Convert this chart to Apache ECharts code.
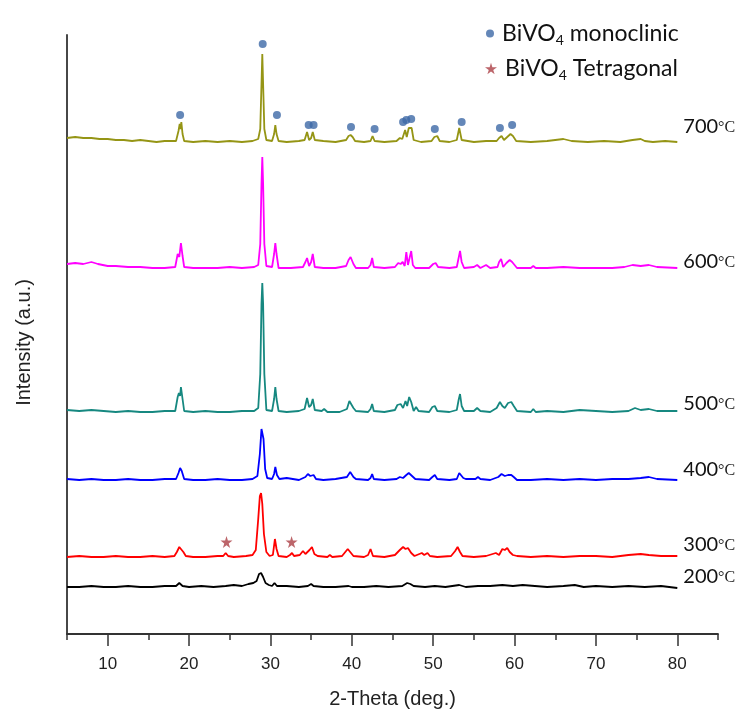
<!DOCTYPE html>
<html>
<head>
<meta charset="utf-8">
<script src="https://cdn.jsdelivr.net/npm/echarts@6/dist/echarts.min.js"></script>
<style>
  html, body { margin: 0; padding: 0; background: #fff; }
  /* 必须定义div大小，否则无法显示图表 */
  #main { width: 740px; height: 718px; }
</style>
</head>
<body>
<div id="main"></div>
<script>
// 横轴刻度
const majorTicks = [10, 20, 30, 40, 50, 60, 70, 80]
const minorTicks = [5, 15, 25, 35, 45, 55, 65, 75, 85]

// 各温度的XRD曲线 [2θ, 强度]
const xrd700 = [[5,496],[6,497],[7,496],[8,496],[9,495],[10,495],[11,494],[12,494],[13,493],[14,494],[15,493],[16,492],[17,493],[18.4,493],[18.7,503],[18.85,510],[18.95,505],[19.05,512],[19.2,500],[19.4,493],[20.5,492],[22,493],[23.5,492],[25,493],[26.5,492],[27.8,493],[28.5,495],[28.75,505],[28.9,550],[29.0,580],[29.1,550],[29.25,505],[29.5,494],[30.2,493],[30.45,500],[30.6,509],[30.75,500],[31,493],[32,492],[33.5,493],[34.2,494],[34.5,502],[34.75,494],[35.0,496],[35.2,502],[35.45,494],[36.5,493],[38,492],[39.3,494],[39.6,498],[39.85,499],[40.1,497],[40.4,493],[41.5,492],[42.3,493],[42.55,498],[42.8,493],[44,492],[45.5,493],[45.9,496],[46.2,495],[46.55,504],[46.75,497],[47.0,506],[47.15,505],[47.35,506],[47.6,494],[48.5,492],[49.8,493],[50.15,497],[50.3,496],[50.5,498],[50.8,493],[52,492],[52.9,494],[53.2,506],[53.5,494],[55,492],[56.5,493],[57.8,493],[58.1,496],[58.4,498],[58.7,494],[59.1,497],[59.5,500],[59.8,498],[60.2,493],[62,492],[64,493],[66,495],[67,493],[69,492],[71,493],[73,492],[74.5,494],[75.5,495],[76,493],[77,492],[78.5,493],[80,492]]
const xrd600 = [[5,370],[6,371],[7,370],[8,372],[8.8,370],[10,368],[11,368],[12.5,367],[14,367],[15.5,366],[17,366],[18.3,367],[18.6,380],[18.8,377],[19.0,391],[19.2,378],[19.4,367],[20.5,366],[22,366],[23.5,366],[25,367],[26.5,366],[28,367],[28.5,369],[28.75,390],[28.9,450],[29.0,477],[29.1,450],[29.25,390],[29.5,368],[30.2,367],[30.45,380],[30.6,391],[30.75,380],[31,366],[32.5,366],[34,367],[34.3,372],[34.5,376],[34.75,368],[35.0,372],[35.2,380],[35.45,367],[36.5,366],[38,366],[39.3,368],[39.6,374],[39.85,377],[40.2,370],[40.5,366],[42,366],[42.3,369],[42.5,376],[42.7,367],[44,366],[45.3,367],[45.7,371],[46.0,370],[46.25,372],[46.5,368],[46.7,382],[46.9,369],[47.1,370],[47.3,383],[47.5,369],[47.8,366],[49.5,366],[50.0,370],[50.3,371],[50.6,367],[52,366],[52.9,367],[53.15,377],[53.3,383],[53.5,372],[53.8,366],[55,367],[55.4,369],[55.8,366],[56.5,369],[57,366],[57.9,367],[58.1,372],[58.35,375],[58.6,367],[59.0,371],[59.4,374],[59.7,372],[60,369],[60.3,366],[62,366],[62.3,368],[62.6,366],[64,366],[66,367],[68,366],[70,366],[72,366],[73.5,367],[74.5,369],[75.5,368],[76.5,369],[77.5,367],[80,366]]
const xrd500 = [[5,224],[6.5,223],[8,224],[9.5,223],[11,222],[12.5,223],[14,222],[15.5,222],[17,223],[18.3,223],[18.6,237],[18.75,241],[18.9,238],[19.0,247],[19.2,235],[19.4,223],[20.5,222],[22,223],[23.5,222],[25,222],[26.5,223],[28,223],[28.5,226],[28.75,260],[28.9,330],[29.0,351],[29.1,330],[29.25,260],[29.5,224],[30.2,223],[30.45,235],[30.6,247],[30.75,235],[31,223],[32,222],[33.5,223],[34.2,225],[34.5,236],[34.75,227],[35.0,229],[35.2,235],[35.45,224],[36.3,223],[36.6,225],[37,222],[38.5,222],[39.4,225],[39.7,233],[39.9,231],[40.2,226],[40.5,223],[42,222],[42.3,225],[42.5,230],[42.7,223],[44,222],[45.3,224],[45.6,229],[46.0,230],[46.3,226],[46.6,233],[46.8,228],[47.05,237],[47.3,232],[47.6,223],[47.9,227],[48.2,223],[49.5,222],[49.9,227],[50.2,228],[50.5,223],[52,222],[52.9,224],[53.15,235],[53.3,240],[53.5,228],[53.8,223],[55,223],[55.4,226],[55.8,223],[57,222],[57.8,226],[58.2,232],[58.5,228],[58.8,226],[59.2,231],[59.6,232],[59.9,228],[60.3,223],[62,222],[62.3,225],[62.6,222],[64,223],[66,222],[68,224],[70,223],[72,222],[74,223],[74.8,226],[75.5,224],[76.5,225],[77.5,223],[80,223]]
const xrd400 = [[5,155],[6.5,154],[8,155],[9.5,154],[11,154],[12.5,155],[14,154],[15.5,154],[17,155],[18.4,155],[18.7,161],[18.9,166],[19.1,163],[19.4,155],[20.5,154],[22,154],[23.5,155],[25,154],[26.5,154],[27.8,155],[28.4,158],[28.7,180],[28.9,205],[29.0,207],[29.15,195],[29.35,165],[29.6,156],[30.2,155],[30.45,160],[30.6,167],[30.8,159],[31.1,155],[32,156],[33.5,154],[34.3,157],[34.6,160],[34.9,158],[35.3,159],[35.6,155],[36.5,154],[38,155],[39.4,157],[39.8,162],[40.2,157],[40.5,155],[42,154],[42.3,156],[42.5,160],[42.7,155],[44,154],[45.5,155],[45.9,157],[46.3,156],[46.7,159],[47.0,161],[47.4,158],[47.8,155],[49.5,154],[49.9,157],[50.2,159],[50.5,155],[52,154],[52.9,155],[53.2,161],[53.4,163],[53.7,156],[54,155],[55.2,155],[55.5,157],[55.8,155],[57,154],[58.0,157],[58.4,160],[58.8,158],[59.2,159],[59.6,159],[59.9,157],[60.3,154],[62,154],[64,155],[66,154],[68,155],[70,154],[72,155],[74,155],[75.5,156],[76.5,157],[77.5,155],[80,154]]
const xrd300 = [[5,77],[6.5,78],[8,77],[9.5,77],[11,78],[12.5,77],[14,77],[15.5,78],[17,77],[18.2,78],[18.5,82],[18.8,87],[19.0,88],[19.3,82],[19.6,78],[20.5,77],[22,77],[23.5,78],[24.2,78],[24.5,81],[24.8,78],[25.5,77],[27,78],[27.8,79],[28.2,84],[28.5,115],[28.7,138],[28.85,141],[29.0,130],[29.2,100],[29.5,82],[29.9,78],[30.3,79],[30.55,95],[30.75,85],[31,78],[32,77],[32.4,79],[32.65,81],[32.9,78],[33.6,79],[34.0,83],[34.3,80],[34.8,84],[35.1,87],[35.4,80],[35.8,78],[37,77],[37.3,79],[37.6,77],[38.8,78],[39.2,82],[39.5,85],[39.8,82],[40.2,78],[41.5,77],[42.0,79],[42.3,85],[42.6,78],[44,77],[45.3,79],[45.9,84],[46.3,87],[46.6,85],[46.9,86],[47.3,81],[47.7,78],[48.3,80],[48.6,81],[48.9,79],[49.3,81],[49.6,78],[50.5,77],[52.2,78],[52.7,83],[53.0,87],[53.3,82],[53.6,78],[55,77],[56.5,78],[57.3,80],[57.7,81],[58.1,79],[58.5,85],[58.8,84],[59.1,86],[59.4,82],[59.8,79],[60.3,78],[62,77],[64,78],[66,77],[68,78],[70,78],[72,77],[74,79],[75.5,80],[76.5,79],[78,78],[80,78]]
const xrd200 = [[5,47],[6.5,47],[8,48],[9.5,47],[11,47],[12.5,48],[14,47],[15.5,47],[17,48],[18.4,48],[18.8,51],[19.2,48],[20,47],[21.5,48],[23,47],[24.5,48],[25.5,49],[26.5,48],[27.3,50],[27.9,51],[28.3,53],[28.6,60],[28.85,61],[29.1,57],[29.4,51],[29.8,49],[30.2,48],[30.5,51],[30.8,48],[32,48],[33.5,47],[34.6,48],[35.0,50],[35.3,48],[36.5,47],[38,47],[39.6,48],[40,47],[41.5,47],[43,48],[44.5,47],[46.2,48],[46.8,51],[47.2,50],[47.6,48],[49,47],[50.2,48],[51.5,47],[53.2,49],[54,47],[55.5,48],[57,48],[58.5,49],[59.8,48],[61,49],[62.5,48],[64,47],[66,48],[67.4,49],[68.5,47],[70,48],[72,47],[74,48],[76,47],[78,48],[80,46]]

// 物相标记位置
const monoclinicPeaks = [[18.9,519],[29.05,590],[30.8,519],[34.7,509],[35.3,509],[39.9,507],[42.8,505],[46.3,512],[46.7,514],[47.3,515],[50.2,505],[53.5,512],[58.2,506],[59.7,509]]
const tetragonalPeaks = [[24.6,92],[32.6,92]]

const temps = ['700', '600', '500', '400', '300', '200']

const chart = echarts.init(document.getElementById('main'), null, { renderer: 'canvas' })

const colors = ['#959515', '#ff00ff', '#168880', '#0000ff', '#ff0000', '#000000']
const curves = [xrd700, xrd600, xrd500, xrd400, xrd300, xrd200]
const labelShift = [-15, -6, -7, -10, -11, -11]

const starPath = 'path://M50,0 L61,35 L98,35 L68,57 L79,91 L50,70 L21,91 L32,57 L2,35 L39,35 Z'

const lineSeries = curves.map((d, i) => ({
  name: temps[i],
  type: 'line',
  data: d,
  showSymbol: false,
  symbol: 'none',
  silent: true,
  lineStyle: { color: colors[i], width: 1.8 },
  itemStyle: { color: colors[i] },
  endLabel: {
    show: true,
    distance: 6,
    offset: [0, labelShift[i]],
    formatter: '{t|' + temps[i] + '}{c|°C}',
    rich: {
      t: { fontFamily: 'Lato', fontSize: 20, color: '#111' },
      c: { fontFamily: 'Liberation Serif', fontSize: 16, color: '#222', padding: [2, 0, 0, 0] }
    }
  }
}))

const legendRich = {
  a: { fontFamily: 'Lato', fontSize: 23, color: '#111', lineHeight: 28 },
  s: { fontFamily: 'Lato', fontSize: 14, color: '#111', verticalAlign: 'bottom', lineHeight: 14 }
}

const option = {
  animation: false,
  backgroundColor: '#fff',
  grid: { left: 67, right: 22, top: 35, bottom: 84, containLabel: false },
  legend: [
    {
      data: ['mono'],
      left: 481, top: 17,
      itemWidth: 8, itemHeight: 8,
      icon: 'circle',
      formatter: () => '{a|BiVO}{s|4}{a| monoclinic}',
      textStyle: { rich: legendRich, padding: [0, 0, 0, 3] }
    },
    {
      data: ['tetra'],
      left: 480, top: 52,
      itemWidth: 12, itemHeight: 12,
      icon: starPath,
      formatter: () => '{a|BiVO}{s|4}{a| Tetragonal}',
      textStyle: { rich: legendRich, padding: [0, 0, 0, 3] }
    }
  ],
  xAxis: [
    {
      type: 'value', min: 5, max: 85, position: 'bottom',
      axisLine: { show: true, lineStyle: { color: '#333', width: 1.8 } },
      axisTick: { show: true, length: 6, customValues: minorTicks, lineStyle: { color: '#333', width: 1.5 } },
      axisLabel: { show: false },
      splitLine: { show: false },
      name: '2-Theta (deg.)',
      nameLocation: 'middle',
      nameGap: 55,
      nameTextStyle: { fontFamily: 'Liberation Sans Narrow, Liberation Sans', fontSize: 20, color: '#222' }
    },
    {
      type: 'value', min: 5, max: 85, position: 'bottom',
      axisLine: { show: false },
      axisTick: { show: true, length: 12, customValues: majorTicks, lineStyle: { color: '#333', width: 1.5 } },
      axisLabel: {
        show: true, customValues: majorTicks, margin: 22,
        fontFamily: 'Liberation Sans Narrow, Liberation Sans', fontSize: 17, color: '#222'
      },
      splitLine: { show: false }
    }
  ],
  yAxis: {
    type: 'value', min: 0, max: 599,
    axisLine: { show: true, lineStyle: { color: '#333', width: 1.8 } },
    axisTick: { show: false },
    axisLabel: { show: false },
    splitLine: { show: false },
    name: 'Intensity (a.u.)',
    nameLocation: 'middle',
    nameGap: 33,
    nameTextStyle: { fontFamily: 'Liberation Sans', fontSize: 20, color: '#222', padding: [0, 16, 0, 0] }
  },
  series: lineSeries.concat([
    {
      name: 'mono',
      type: 'scatter',
      data: monoclinicPeaks,
      symbol: 'circle',
      symbolSize: 8,
      itemStyle: { color: '#3d69a6' },
      z: 5
    },
    {
      name: 'tetra',
      type: 'scatter',
      data: tetragonalPeaks,
      symbol: starPath,
      symbolSize: 12,
      itemStyle: { color: '#b5545a', opacity: 0.9 },
      z: 5
    }
  ])
}

chart.setOption(option)
window.onresize = () => chart.resize()
</script>
</body>
</html>
